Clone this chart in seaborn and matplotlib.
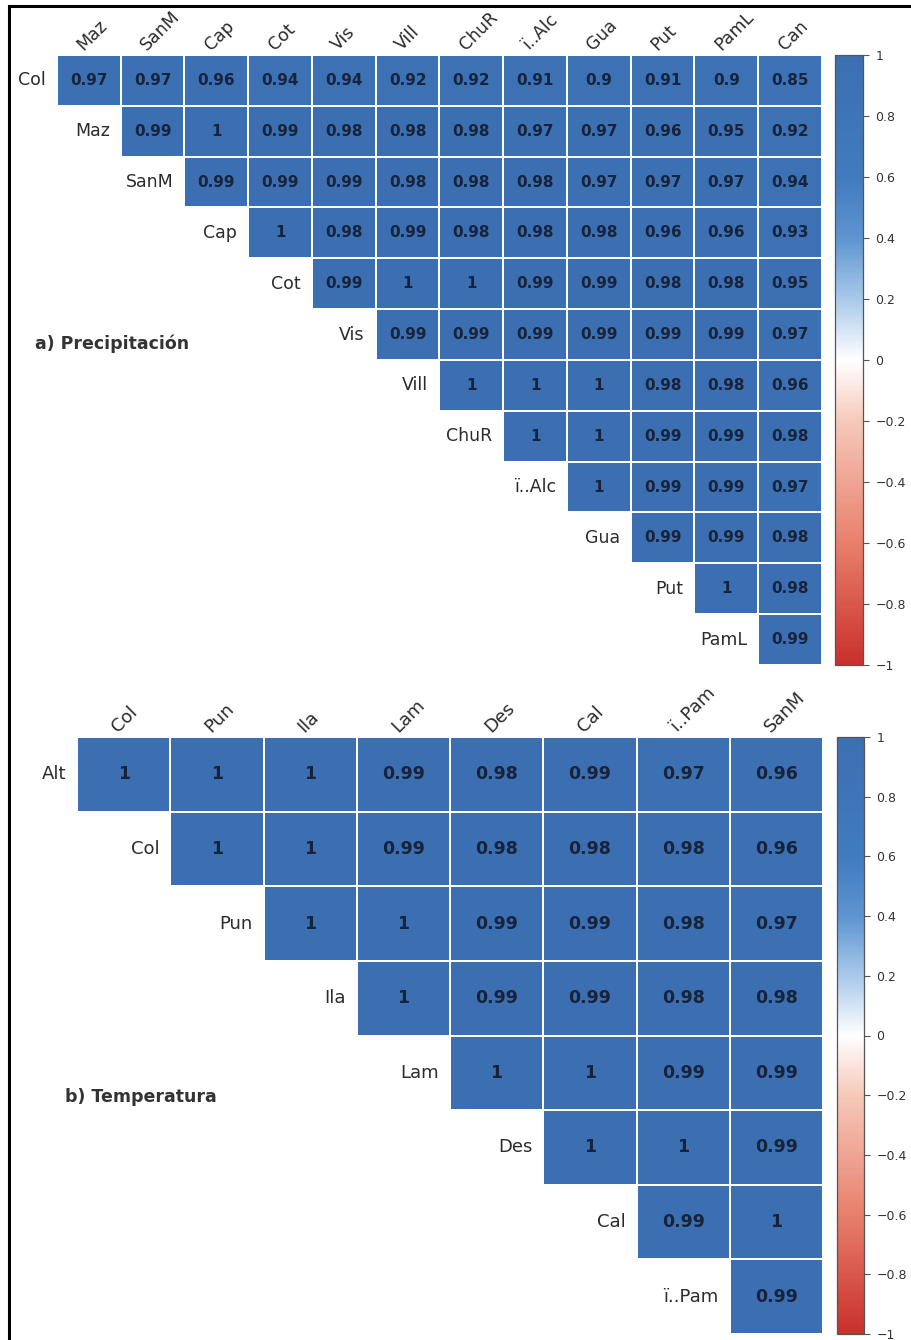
import numpy as np
import pandas as pd
import matplotlib
matplotlib.use('Agg')
import matplotlib.pyplot as plt
from matplotlib.colors import LinearSegmentedColormap
from matplotlib.lines import Line2D
import seaborn as sns

# --- a) Precipitación : matrice triangulaire supérieure ---
precip_rows = ['Col', 'Maz', 'SanM', 'Cap', 'Cot', 'Vis', 'Vill', 'ChuR', 'ï..Alc', 'Gua', 'Put', 'PamL']
precip_cols = ['Maz', 'SanM', 'Cap', 'Cot', 'Vis', 'Vill', 'ChuR', 'ï..Alc', 'Gua', 'Put', 'PamL', 'Can']
precip_vals = [
    [0.97, 0.97, 0.96, 0.94, 0.94, 0.92, 0.92, 0.91, 0.9, 0.91, 0.9, 0.85],
    [0.99, 1, 0.99, 0.98, 0.98, 0.98, 0.97, 0.97, 0.96, 0.95, 0.92],
    [0.99, 0.99, 0.99, 0.98, 0.98, 0.98, 0.97, 0.97, 0.97, 0.94],
    [1, 0.98, 0.99, 0.98, 0.98, 0.98, 0.96, 0.96, 0.93],
    [0.99, 1, 1, 0.99, 0.99, 0.98, 0.98, 0.95],
    [0.99, 0.99, 0.99, 0.99, 0.99, 0.99, 0.97],
    [1, 1, 1, 0.98, 0.98, 0.96],
    [1, 1, 0.99, 0.99, 0.98],
    [1, 0.99, 0.99, 0.97],
    [0.99, 0.99, 0.98],
    [1, 0.98],
    [0.99],
]

# --- b) Temperatura ---
temp_rows = ['Alt', 'Col', 'Pun', 'Ila', 'Lam', 'Des', 'Cal', 'ï..Pam']
temp_cols = ['Col', 'Pun', 'Ila', 'Lam', 'Des', 'Cal', 'ï..Pam', 'SanM']
temp_vals = [
    [1, 1, 1, 0.99, 0.98, 0.99, 0.97, 0.96],
    [1, 1, 0.99, 0.98, 0.98, 0.98, 0.96],
    [1, 1, 0.99, 0.99, 0.98, 0.97],
    [1, 0.99, 0.99, 0.98, 0.98],
    [1, 1, 0.99, 0.99],
    [1, 1, 0.99],
    [0.99, 1],
    [0.99],
]

cbar_ticks = [-1, -0.8, -0.6, -0.4, -0.2, 0, 0.2, 0.4, 0.6, 0.8, 1]
cbar_labels = ['\u22121', '\u22120.8', '\u22120.6', '\u22120.4', '\u22120.2', '0',
               '0.2', '0.4', '0.6', '0.8', '1']

panel_titles = ['a) Precipitación', 'b) Temperatura']

cmap = LinearSegmentedColormap.from_list('corr', [
    (0.0, '#c9302c'), (0.2, '#e8806c'), (0.4, '#f6c9bb'), (0.5, '#ffffff'),
    (0.6, '#a9c9ea'), (0.7, '#5e95d0'), (0.8, '#417bbf'), (1.0, '#3b6fb1')])


def to_frame(rows, cols, vals):
    n = len(rows)
    m = np.full((n, len(cols)), np.nan)
    for i, r in enumerate(vals):
        m[i, i:i + len(r)] = r
    return pd.DataFrame(m, index=rows, columns=cols)


def draw_panel(ax, cax, rows, cols, vals, annot_size, label_size):
    df = to_frame(rows, cols, vals)
    sns.heatmap(df, ax=ax, cbar_ax=cax, cmap=cmap, vmin=-1, vmax=1,
                annot=True, fmt='g',
                annot_kws={'fontsize': annot_size, 'fontweight': 'bold', 'color': '#17233a'},
                linewidths=1.2, linecolor='white',
                xticklabels=False, yticklabels=False,
                cbar_kws={'ticks': cbar_ticks})
    ax.set_xlabel('')
    ax.set_ylabel('')
    ax.tick_params(length=0)

    # étiquettes de lignes, juste à gauche de la première case
    for i, name in enumerate(rows):
        ax.annotate(name, xy=(i, i + 0.5), xytext=(-8, 0), textcoords='offset points',
                    ha='right', va='center', fontsize=label_size, color='#2b2b2b',
                    annotation_clip=False)
    # étiquettes de colonnes, inclinées à 45°
    for j, name in enumerate(cols):
        ax.annotate(name, xy=(j + 0.5, 0), xytext=(-2, 1), textcoords='offset points',
                    ha='left', va='bottom', rotation=45, rotation_mode='anchor',
                    fontsize=label_size, color='#2b2b2b', annotation_clip=False)

    cb = ax.collections[0].colorbar
    cb.outline.set_visible(True)
    cb.outline.set_linewidth(0.9)
    cb.outline.set_edgecolor('#555555')
    cb.set_ticks(cbar_ticks)
    cb.set_ticklabels(cbar_labels)
    cax.tick_params(length=4, width=0.8, color='#555555', labelsize=9,
                    labelcolor='#333333', pad=5)


W, H = 911, 1340
fig = plt.figure(figsize=(W / 100, H / 100), dpi=100)

ax1 = fig.add_axes([57 / W, 1 - 665 / H, 765 / W, 610 / H])
cax1 = fig.add_axes([835 / W, 1 - 665 / H, 28 / W, 610 / H])
draw_panel(ax1, cax1, precip_rows, precip_cols, precip_vals, 11, 12.5)

ax2 = fig.add_axes([77 / W, 1 - 1334 / H, 746 / W, 597 / H])
cax2 = fig.add_axes([837 / W, 1 - 1334 / H, 27 / W, 597 / H])
draw_panel(ax2, cax2, temp_rows, temp_cols, temp_vals, 12.5, 13)

fig.text(35 / W, 1 - 344 / H, panel_titles[0], ha='left', va='center',
         fontsize=12.5, fontweight='bold', color='#333333')
fig.text(65 / W, 1 - 1097 / H, panel_titles[1], ha='left', va='center',
         fontsize=12.5, fontweight='bold', color='#333333')

# cadre noir (gauche et haut)
fig.add_artist(Line2D([9 / W, 9 / W], [0, 1 - 6 / H], transform=fig.transFigure,
                      color='black', lw=2.2))
fig.add_artist(Line2D([9 / W, 1], [1 - 6 / H, 1 - 6 / H], transform=fig.transFigure,
                      color='black', lw=2.2))

fig.savefig('out.png', dpi=100)
